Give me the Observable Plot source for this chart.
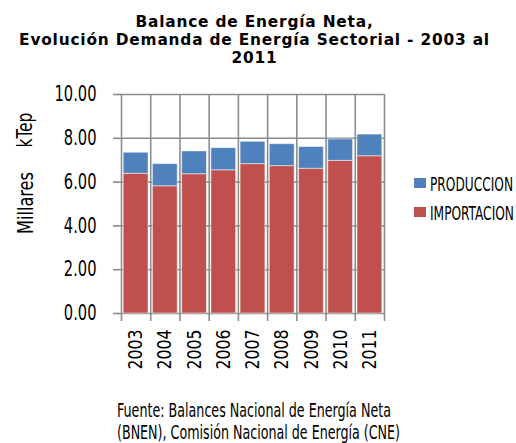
<!DOCTYPE html>
<html><head><meta charset="utf-8">
<script src="https://cdn.jsdelivr.net/npm/d3@7"></script>
<script src="https://cdn.jsdelivr.net/npm/@observablehq/plot@0.6"></script>
<style>
body{margin:0;background:#fff;}
#wrap{position:relative;width:516px;height:443px;overflow:hidden;font-family:"DejaVu Sans Condensed","DejaVu Sans",sans-serif;color:#000}
#title{position:absolute;left:0;top:12.7px;width:509px;text-align:center;font:bold 15.4px "DejaVu Sans",sans-serif;letter-spacing:0.8px;line-height:18px}
#chart{position:absolute;left:0;top:66px}
.yt{position:absolute;font-size:21px;line-height:22px;white-space:nowrap}
.leg{position:absolute;left:414px;height:22px;white-space:nowrap}
.leg .sw{position:absolute;left:0;top:5px;width:12px;height:10px}
.leg .tx{position:absolute;left:16px;top:0;font-size:20px;line-height:22px;transform-origin:0 50%}
.cap{position:absolute;left:117px;font-size:20px;line-height:22px;white-space:nowrap;transform-origin:0 50%}
</style></head>
<body>
<div id="wrap">
  <div id="title">Balance de Energía Neta,<br>Evolución Demanda de Energía Sectorial - 2003 al<br>2011</div>
  <div class="yt" id="yt1" style="left:24.5px;top:130px">kTep</div>
  <div class="yt" id="yt2" style="left:25.5px;top:203px">Millares</div>
  <div id="chart"></div>
  <div id="legend"></div>
  <div class="cap" id="cap1" style="top:399px">Fuente: Balances Nacional de Energía Neta</div>
  <div class="cap" id="cap2" style="top:421px">(BNEN), Comisión Nacional de Energía (CNE)</div>
</div>
<script>
const years = ["2003","2004","2005","2006","2007","2008","2009","2010","2011"];
const importacion = [6.38,5.81,6.36,6.54,6.82,6.73,6.61,6.97,7.18];
const produccion = [0.96,1.01,1.04,1.01,1.02,1.00,0.99,0.98,0.99];
const yTicks = [0,2,4,6,8,10];
const seriesNames = ["PRODUCCION","IMPORTACION"];
const seriesColors = ["#4F81BD","#C0504D"];

const rows = years.map((y,i)=>({i, year:y, imp:importacion[i], prod:produccion[i]}));
const bounds = d3.range(years.length+1);
const centers = years.map((_,i)=>i+0.5);
const grid = "#8c8c8c";

const chart = Plot.plot({
  width:516, height:310,
  marginLeft:121, marginRight:132, marginTop:28, marginBottom:63,
  x:{type:"linear", domain:[0,years.length]},
  y:{domain:[0,10]},
  style:{fontFamily:'"DejaVu Sans Condensed","DejaVu Sans",sans-serif', background:"transparent", color:"#000"},
  marks:[
    Plot.gridY(yTicks,{stroke:grid, strokeOpacity:1, strokeWidth:1.6}),
    Plot.gridX(bounds,{stroke:grid, strokeOpacity:1, strokeWidth:1.6}),
    Plot.axisY(yTicks,{tickSize:8, tickPadding:17, tickFormat:d=>d.toFixed(2), stroke:grid, strokeWidth:1.6, fontSize:21, fill:"#000", label:null}),
    Plot.axisX(bounds,{tickSize:8, tickFormat:()=>"", stroke:grid, strokeWidth:1.6, label:null}),
    Plot.axisX(centers,{tickSize:0, tickPadding:16, tickRotate:-90, tickFormat:c=>years[Math.floor(c)], fontSize:19, fill:"#000", label:null}),
    Plot.rectY(rows,{x1:"i", x2:d=>d.i+1, y1:0, y2:"imp", insetLeft:2.2, insetRight:2.2, fill:seriesColors[1], stroke:"#ffffff", strokeOpacity:0.5, strokeWidth:1}),
    Plot.rectY(rows,{x1:"i", x2:d=>d.i+1, y1:"imp", y2:d=>d.imp+d.prod, insetLeft:2.2, insetRight:2.2, fill:seriesColors[0], stroke:"#ffffff", strokeOpacity:0.5, strokeWidth:1})
  ]
});
document.getElementById("chart").appendChild(chart);

// narrow the SVG tick texts to imitate the condensed face of the original
function squeezeSvg(selector, refText, target){
  const nodes = Array.from(chart.querySelectorAll(selector)).filter(t=>t.textContent.length);
  const ref = nodes.find(t=>t.textContent===refText) || nodes[0];
  if (!ref) return;
  const f = target / ref.getComputedTextLength();
  nodes.forEach(t=>{
    const L = t.getComputedTextLength();
    t.setAttribute("textLength", (L*f).toFixed(2));
    t.setAttribute("lengthAdjust","spacingAndGlyphs");
  });
}
squeezeSvg('g[aria-label="y-axis tick label"] text', "10.00", 42);
squeezeSvg('g[aria-label="x-axis tick label"] text', "2003", 40);

function squeezeHtml(el, target, rotate){
  el.style.display = "inline-block";
  const w = el.getBoundingClientRect().width;
  const f = target / w;
  el.style.transform = rotate ? `translate(-50%,-50%) rotate(-90deg) scaleX(${f})` : `scaleX(${f})`;
}
squeezeHtml(document.getElementById("yt1"), 35, true);
squeezeHtml(document.getElementById("yt2"), 62, true);
squeezeHtml(document.getElementById("cap1"), 274);
squeezeHtml(document.getElementById("cap2"), 283);

const leg = document.getElementById("legend");
const legTargets = [83, 84];
seriesNames.forEach((n,k)=>{
  const d = document.createElement("div");
  d.className = "leg";
  d.style.top = (173 + k*29) + "px";
  d.innerHTML = `<span class="sw" style="background:${seriesColors[k]}"></span><span class="tx">${n}</span>`;
  leg.appendChild(d);
  squeezeHtml(d.querySelector(".tx"), legTargets[k]);
});
</script>
</body></html>
